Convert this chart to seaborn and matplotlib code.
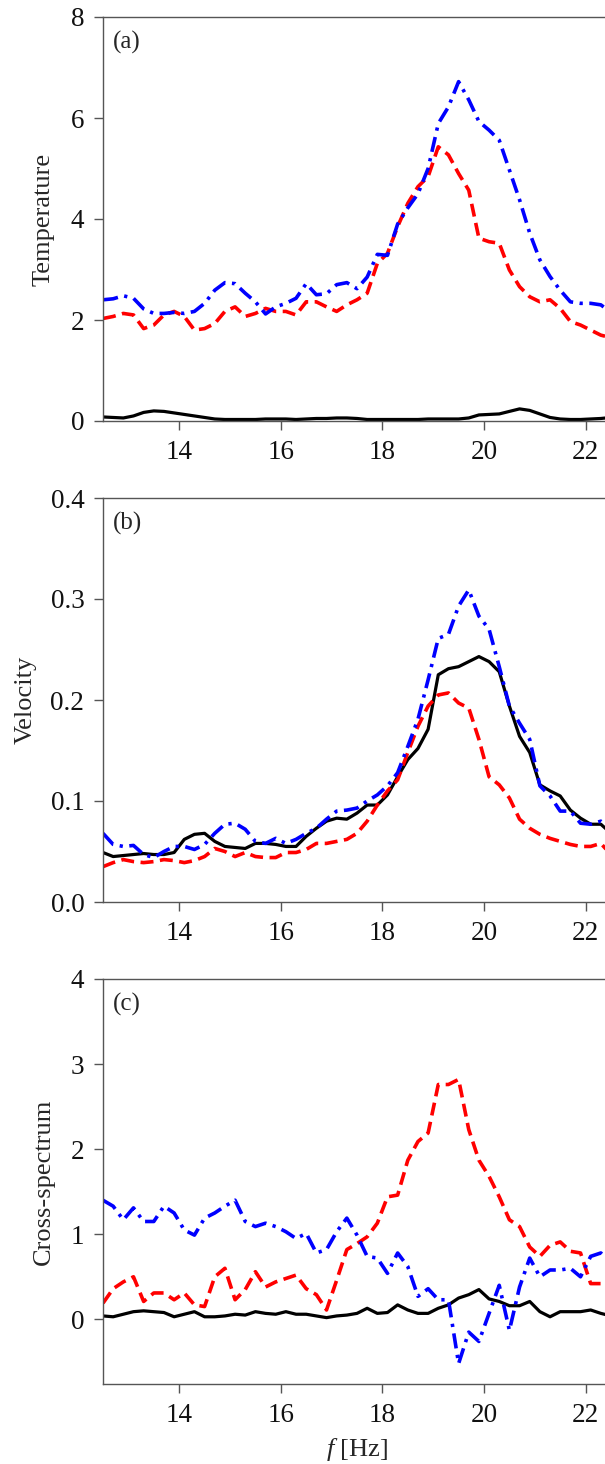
import numpy as np
import pandas as pd
import matplotlib
matplotlib.use("Agg")
import matplotlib.pyplot as plt
import seaborn as sns

# ---------------- data ----------------
freq = [12.5, 12.7, 12.9, 13.1, 13.3, 13.5, 13.7, 13.9, 14.1, 14.3,
        14.5, 14.7, 14.9, 15.1, 15.3, 15.5, 15.7, 15.9, 16.1, 16.3,
        16.5, 16.7, 16.9, 17.1, 17.3, 17.5, 17.7, 17.9, 18.1, 18.3,
        18.5, 18.7, 18.9, 19.1, 19.3, 19.5, 19.7, 19.9, 20.1, 20.3,
        20.5, 20.7, 20.9, 21.1, 21.3, 21.5, 21.7, 21.9, 22.1, 22.3, 22.5]

temp_black = [0.08, 0.07, 0.06, 0.10, 0.17, 0.20, 0.19, 0.16, 0.13, 0.10,
              0.07, 0.04, 0.03, 0.03, 0.03, 0.03, 0.04, 0.04, 0.04, 0.03,
              0.04, 0.05, 0.05, 0.06, 0.06, 0.05, 0.03, 0.03, 0.03, 0.03,
              0.03, 0.03, 0.04, 0.04, 0.04, 0.04, 0.06, 0.12, 0.13, 0.14,
              0.19, 0.24, 0.21, 0.14, 0.07, 0.04, 0.03, 0.03, 0.04, 0.05, 0.07]
temp_red = [2.03, 2.07, 2.13, 2.10, 1.83, 1.90, 2.10, 2.17, 2.07, 1.80,
            1.83, 1.93, 2.17, 2.26, 2.07, 2.13, 2.23, 2.17, 2.17, 2.10,
            2.36, 2.36, 2.26, 2.17, 2.30, 2.40, 2.53, 3.12, 3.32, 3.85,
            4.31, 4.64, 4.84, 5.43, 5.27, 4.90, 4.57, 3.62, 3.55, 3.52,
            2.99, 2.66, 2.46, 2.36, 2.40, 2.23, 1.97, 1.90, 1.80, 1.70, 1.65]
temp_blue = [2.40, 2.42, 2.48, 2.43, 2.22, 2.13, 2.13, 2.15, 2.13, 2.17,
             2.33, 2.59, 2.74, 2.72, 2.53, 2.36, 2.12, 2.26, 2.33, 2.43,
             2.72, 2.50, 2.52, 2.70, 2.74, 2.62, 2.85, 3.30, 3.28, 3.90,
             4.22, 4.50, 5.00, 5.89, 6.22, 6.72, 6.36, 5.93, 5.76, 5.56,
             4.97, 4.38, 3.72, 3.19, 2.86, 2.59, 2.36, 2.33, 2.33, 2.30, 2.15]

vel_black = [0.049, 0.045, 0.046, 0.047, 0.048, 0.047, 0.047, 0.049, 0.062, 0.067,
             0.068, 0.060, 0.055, 0.054, 0.053, 0.058, 0.058, 0.057, 0.055, 0.055,
             0.065, 0.073, 0.080, 0.083, 0.082, 0.088, 0.096, 0.096, 0.106, 0.124,
             0.141, 0.152, 0.171, 0.225, 0.231, 0.233, 0.238, 0.243, 0.238, 0.228,
             0.194, 0.164, 0.148, 0.116, 0.110, 0.105, 0.091, 0.083, 0.077, 0.077, 0.068]
vel_red = [0.035, 0.039, 0.042, 0.040, 0.039, 0.040, 0.042, 0.041, 0.039, 0.041,
           0.045, 0.053, 0.050, 0.045, 0.049, 0.045, 0.044, 0.044, 0.049, 0.049,
           0.052, 0.058, 0.058, 0.060, 0.062, 0.068, 0.080, 0.096, 0.110, 0.121,
           0.148, 0.174, 0.194, 0.205, 0.207, 0.197, 0.192, 0.161, 0.124, 0.116,
           0.103, 0.082, 0.073, 0.067, 0.063, 0.060, 0.057, 0.055, 0.055, 0.058, 0.047]
vel_blue = [0.068, 0.057, 0.055, 0.056, 0.047, 0.044, 0.050, 0.055, 0.055, 0.052,
            0.057, 0.068, 0.077, 0.078, 0.072, 0.060, 0.058, 0.063, 0.058, 0.062,
            0.068, 0.073, 0.082, 0.090, 0.091, 0.093, 0.100, 0.106, 0.115, 0.128,
            0.154, 0.181, 0.220, 0.261, 0.265, 0.293, 0.309, 0.283, 0.270, 0.233,
            0.194, 0.177, 0.161, 0.115, 0.105, 0.090, 0.090, 0.078, 0.077, 0.080, 0.072]

cross_black = [0.04, 0.03, 0.06, 0.09, 0.10, 0.09, 0.08, 0.03, 0.06, 0.09,
               0.03, 0.03, 0.04, 0.06, 0.05, 0.09, 0.07, 0.06, 0.09, 0.06,
               0.06, 0.04, 0.02, 0.04, 0.05, 0.07, 0.13, 0.07, 0.08, 0.17,
               0.11, 0.07, 0.07, 0.13, 0.17, 0.25, 0.29, 0.35, 0.24, 0.21,
               0.16, 0.16, 0.21, 0.09, 0.03, 0.09, 0.09, 0.09, 0.11, 0.07, 0.04]
cross_red = [0.19, 0.36, 0.44, 0.50, 0.21, 0.31, 0.31, 0.23, 0.31, 0.17,
             0.15, 0.50, 0.60, 0.23, 0.35, 0.56, 0.38, 0.44, 0.48, 0.52,
             0.36, 0.29, 0.11, 0.46, 0.82, 0.89, 0.97, 1.13, 1.44, 1.46,
             1.87, 2.09, 2.19, 2.76, 2.76, 2.82, 2.23, 1.87, 1.68, 1.44,
             1.17, 1.09, 0.85, 0.74, 0.87, 0.91, 0.80, 0.78, 0.42, 0.42, 0.48]
cross_blue = [1.40, 1.33, 1.17, 1.31, 1.15, 1.15, 1.33, 1.25, 1.05, 0.99,
              1.19, 1.25, 1.33, 1.40, 1.15, 1.09, 1.13, 1.09, 1.03, 0.95,
              1.01, 0.78, 0.82, 1.03, 1.19, 0.99, 0.74, 0.72, 0.54, 0.78,
              0.62, 0.27, 0.36, 0.23, 0.23, -0.52, -0.15, -0.26, 0.07, 0.40,
              -0.13, 0.38, 0.72, 0.50, 0.58, 0.58, 0.60, 0.50, 0.74, 0.78, 0.66]

xticks = [14, 16, 18, 20, 22]
panel_labels = ["(a)", "(b)", "(c)"]
ylabels = ["Temperature", "Velocity", "Cross-spectrum"]
yticks_list = [[0, 2, 4, 6, 8], [0.0, 0.1, 0.2, 0.3, 0.4], [0, 1, 2, 3, 4]]
ytick_labels = [["0", "2", "4", "6", "8"],
                ["0.0", "0.1", "0.2", "0.3", "0.4"],
                ["0", "1", "2", "3", "4"]]
ylims = [(0, 8), (0, 0.4), (-0.76, 4)]

# ---------------- style ----------------
sns.set_theme(style="ticks")
plt.rcParams['font.family'] = ['Liberation Serif', 'DejaVu Serif']
plt.rcParams['mathtext.fontset'] = 'custom'
plt.rcParams['mathtext.rm'] = 'Liberation Serif'
plt.rcParams['mathtext.it'] = 'Liberation Serif:italic'

W, H = 605, 1464
fig = plt.figure(figsize=(W / 100, H / 100), dpi=100)

spine_col = '#555555'
fs = 19.5
left = 103 / W
width = 508 / W
tops = [17, 498, 979]
bots = [421, 902, 1384]
label_x = [-0.096, -0.13, -0.094]

series = [
    (temp_black, temp_red, temp_blue),
    (vel_black, vel_red, vel_blue),
    (cross_black, cross_red, cross_blue),
]

for i in range(3):
    b = (H - bots[i]) / H
    h = (bots[i] - tops[i]) / H
    ax = fig.add_axes([left, b, width, h])
    blk, red, blu = series[i]
    df = pd.DataFrame({"f": freq, "black": blk, "red": red, "blue": blu})
    sns.lineplot(data=df, x="f", y="black", ax=ax, color="black", lw=2.3,
                 linestyle="-")
    sns.lineplot(data=df, x="f", y="red", ax=ax, color="#ff0000", lw=2.6,
                 linestyle=(0, (3.6, 1.8)))
    sns.lineplot(data=df, x="f", y="blue", ax=ax, color="#0000ff", lw=2.6,
                 linestyle=(0, (4.2, 1.8, 0.9, 1.8)))
    ax.set_xlim(12.5, 22.5)
    ax.set_ylim(*ylims[i])
    ax.set_xticks(xticks)
    ax.set_xticklabels([str(t) for t in xticks])
    ax.set_yticks(yticks_list[i])
    ax.set_yticklabels(ytick_labels[i])
    for s in ax.spines.values():
        s.set_color(spine_col)
        s.set_linewidth(1.0)
    ax.spines['right'].set_visible(False)
    ax.tick_params(axis='both', direction='out', length=6.5, width=1.0,
                   color=spine_col, labelsize=fs, labelcolor='#111111', pad=7)
    ax.set_ylabel(ylabels[i], fontsize=19)
    ax.yaxis.set_label_coords(label_x[i], 0.5)
    if i == 2:
        ax.set_xlabel(r"$f$ [Hz]", fontsize=19, labelpad=6)
    else:
        ax.set_xlabel("")
    ax.text(0.02, 0.965, panel_labels[i], transform=ax.transAxes,
            fontsize=18, va='top', ha='left')
    ax.grid(False)

fig.savefig("out.png", dpi=100)
